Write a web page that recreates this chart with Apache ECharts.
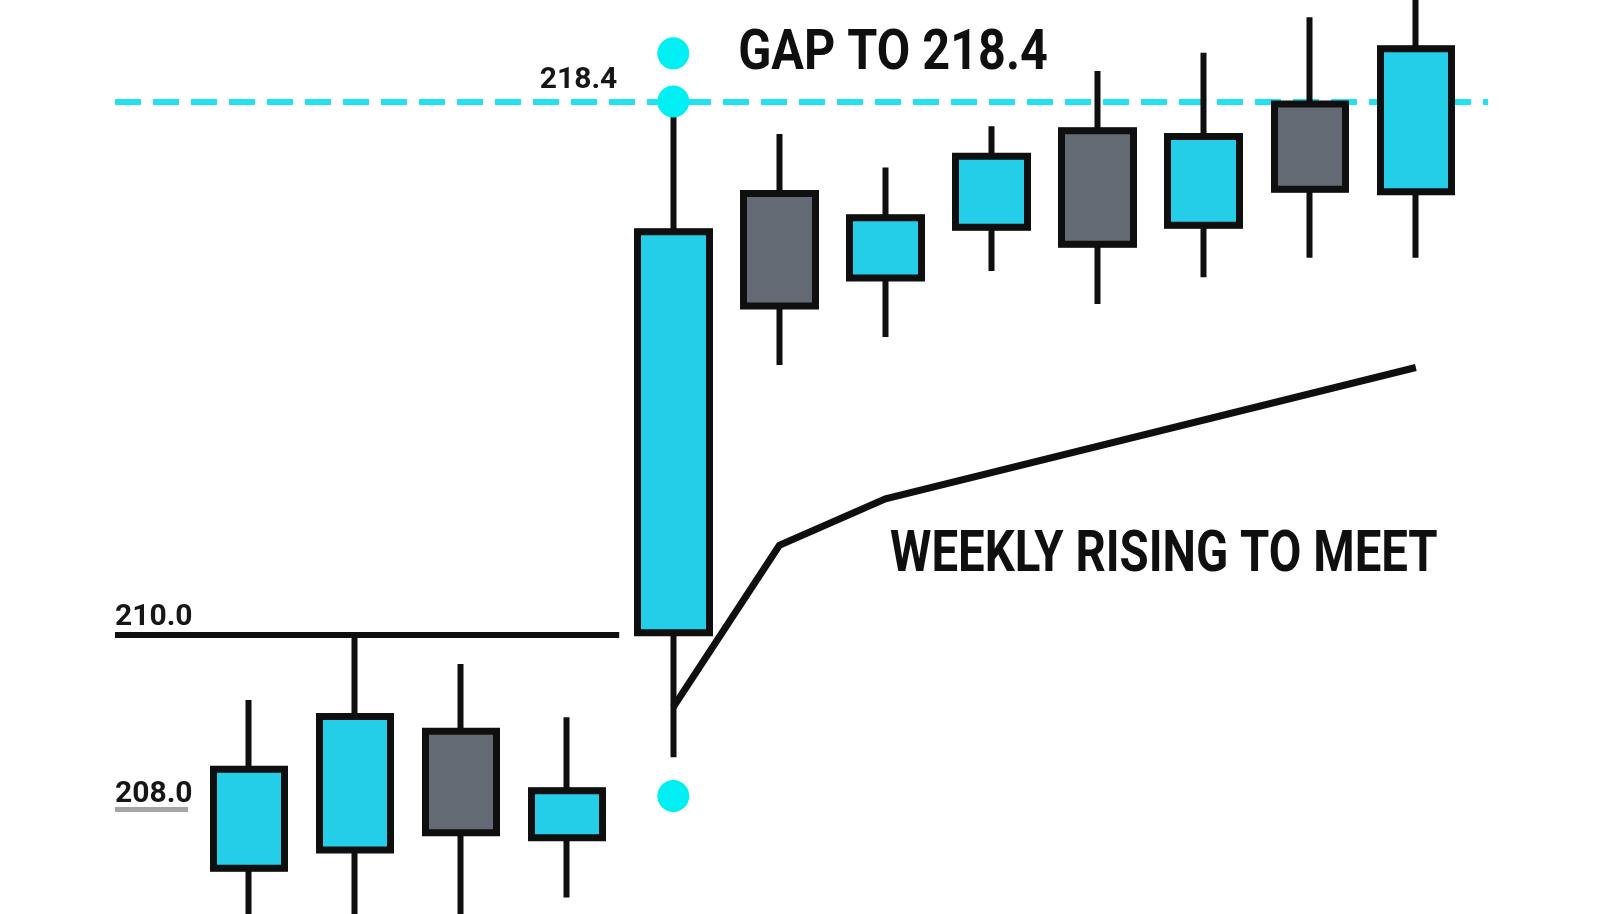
<!DOCTYPE html>
<html>
<head>
<meta charset="utf-8">
<script src="https://cdn.jsdelivr.net/npm/echarts@6/dist/echarts.min.js"></script>
<style>
html,body{margin:0;padding:0;background:#ffffff;}
#c{width:1600px;height:914px;}
</style>
</head>
<body>
<div id="c"></div>
<script>
// ---- data ----
const sessions = [0, 1, 2, 3, 4, 5, 6, 7, 8, 9, 10, 11];
const opens  = [206.32, 206.61, 208.48, 206.80, 210.03, 216.95, 215.62, 216.42, 217.94, 216.45, 218.36, 216.98];
const closes = [207.88, 208.71, 206.88, 207.54, 216.35, 215.18, 216.57, 217.54, 216.15, 217.85, 217.02, 219.23];
const lows   = [205.40, 205.40, 205.40, 205.86, 208.07, 214.25, 214.69, 215.73, 215.21, 215.63, 215.94, 215.94];
const highs  = [208.97, 210.00, 209.54, 208.70, 218.40, 217.89, 217.36, 218.01, 218.88, 219.17, 219.73, 220.00];
const weeklyX = [4, 5, 6, 11];
const weeklyY = [208.86, 211.41, 212.14, 214.21];
const gapDotX = [4, 4, 4];
const gapDotY = [219.16, 218.40, 207.46];
const gapLevel = 218.4;
const resistanceLevel = 210.0;
const supportMarkLevel = 207.25;
const levelLabels = ['218.4', '210.0', '208.0'];
const annotations = ['GAP TO 218.4', 'WEEKLY RISING TO MEET'];

// ---- layout / style ----
const X_MIN = -1.263, X_MAX = 11.68;
const RES_END_X = 3.49, SUP_END_X = -0.575;
const CYAN = '#24cde8', GRAY = '#646a73', INK = '#0f0f0f', DASH = '#22e2ee', DOT = '#00eff3';

const candleData = sessions.map((s, i) => [s, opens[i], closes[i], lows[i], highs[i]]);
const bodyData = sessions.map((s, i) => [s, opens[i], closes[i], Math.min(opens[i], closes[i]), Math.max(opens[i], closes[i])]);
const weeklyData = weeklyX.map((x, i) => [x, weeklyY[i]]);

const smallLabel = { color: '#161616', fontSize: 30, fontWeight: 'bold', fontFamily: 'Roboto' };

const dotData = gapDotX.map((x, i) => {
  const item = { value: [x, gapDotY[i]] };
  if (gapDotY[i] === gapLevel) {
    item.label = Object.assign({
      show: true, formatter: levelLabels[0], position: 'left', distance: 40, offset: [0, -21]
    }, smallLabel);
  }
  return item;
});

function fitText(str, box) {
  const c = document.createElement('canvas').getContext('2d');
  c.textBaseline = 'middle';
  c.font = 'bold 100px Roboto';
  let m = c.measureText(str);
  const h100 = m.actualBoundingBoxAscent + m.actualBoundingBoxDescent;
  const fs = 100 * (box.bottom - box.top) / h100;
  const font = 'bold ' + fs.toFixed(2) + 'px Roboto';
  c.font = font;
  m = c.measureText(str);
  const inkW = m.actualBoundingBoxLeft + m.actualBoundingBoxRight;
  const sx = (box.right - box.left) / inkW;
  return {
    type: 'text',
    x: box.left + m.actualBoundingBoxLeft * sx,
    y: (box.top + box.bottom) / 2 + (m.actualBoundingBoxAscent - m.actualBoundingBoxDescent) / 2,
    scaleX: sx,
    z: 20,
    silent: true,
    style: {
      text: str, font: font, fill: INK,
      textAlign: 'left', textVerticalAlign: 'middle', align: 'left', verticalAlign: 'middle'
    }
  };
}

const chart = echarts.init(document.getElementById('c'), null, { renderer: 'canvas' });
chart.setOption({
  animation: false,
  backgroundColor: '#ffffff',
  grid: { left: 115, right: 112, top: -3.3, bottom: -4.3, containLabel: false },
  xAxis: { type: 'value', min: X_MIN, max: X_MAX, show: false },
  yAxis: { type: 'value', min: 205.6, max: 220, show: false, splitLine: { show: false } },
  series: [
    {
      name: 'wicks', type: 'candlestick', z: 3, barWidth: 72, silent: true,
      data: candleData,
      itemStyle: { color: CYAN, color0: GRAY, borderColor: INK, borderColor0: INK, borderWidth: 6 }
    },
    {
      name: 'bodies', type: 'candlestick', z: 4, barWidth: 72, silent: true,
      data: bodyData,
      itemStyle: { color: CYAN, color0: GRAY, borderColor: INK, borderColor0: INK, borderWidth: 7 }
    },
    {
      name: 'weekly', type: 'line', z: 5, silent: true, symbol: 'none',
      data: weeklyData,
      lineStyle: { color: INK, width: 7, join: 'miter' },
      markLine: {
        z: 1, silent: true, animation: false, symbol: ['none', 'none'],
        label: { show: false },
        data: [
          { yAxis: gapLevel, lineStyle: { color: DASH, width: 6, type: [26, 12], opacity: 1 }, label: { show: false } },
          [
            { coord: [X_MIN, resistanceLevel], lineStyle: { color: INK, width: 6, type: 'solid', opacity: 1 },
              label: Object.assign({ show: true, formatter: levelLabels[1], position: 'insideStartTop', distance: [0, 2] }, smallLabel) },
            { coord: [RES_END_X, resistanceLevel] }
          ],
          [
            { coord: [X_MIN, supportMarkLevel], lineStyle: { color: '#a5a5a5', width: 5, type: 'solid', opacity: 1 },
              label: Object.assign({ show: true, formatter: levelLabels[2], position: 'insideStartTop', distance: [0, 0] }, smallLabel) },
            { coord: [SUP_END_X, supportMarkLevel] }
          ]
        ]
      }
    },
    {
      name: 'gap', type: 'scatter', z: 6, silent: true,
      symbol: 'circle', symbolSize: 32,
      itemStyle: { color: DOT, opacity: 1 },
      data: dotData
    }
  ],
  graphic: [
    fitText(annotations[0], { left: 740, right: 1046.7, top: 29, bottom: 69.5 }),
    fitText(annotations[1], { left: 890, right: 1437.3, top: 529.3, bottom: 571.7 })
  ]
});
</script>
</body>
</html>
